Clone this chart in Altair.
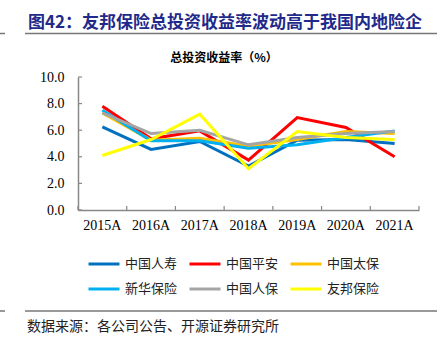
import altair as alt
import pandas as pd

years = ["2015A", "2016A", "2017A", "2018A", "2019A", "2020A", "2021A"]
companies = ["中国人寿", "中国平安", "中国太保", "新华保险", "中国人保", "友邦保险"]
colors = ["#0070C0", "#FF0000", "#FFC000", "#00B0F0", "#A5A5A5", "#FFFF00"]

s_gsrs = [6.25, 4.55, 5.15, 3.3, 5.25, 5.3, 5.0]
s_payh = [7.8, 5.35, 5.95, 3.75, 6.95, 6.2, 4.0]
s_zgtb = [7.3, 5.25, 5.4, 4.8, 5.3, 5.9, 5.75]
s_xhbx = [7.5, 5.2, 5.2, 4.65, 4.9, 5.45, 5.95]
s_zgrb = [7.3, 5.75, 6.0, 4.9, 5.45, 5.75, 5.9]
s_ybbx = [4.1, 5.3, 7.2, 3.1, 5.9, 5.45, 5.3]
series = [s_gsrs, s_payh, s_zgtb, s_xhbx, s_zgrb, s_ybbx]

y_ticks = [0, 2, 4, 6, 8, 10]

title_text = "图42：友邦保险总投资收益率波动高于我国内地险企"
subtitle_text = "总投资收益率（%）"
source_text = "数据来源：各公司公告、开源证券研究所"

rows = []
for c, vals in zip(companies, series):
    for i, (y, v) in enumerate(zip(years, vals)):
        rows.append({"year": y, "company": c, "value": v, "order": companies.index(c)})
df = pd.DataFrame(rows)

W, H = 341, 133
CJK = "Noto Sans CJK SC"
SERIF = "Liberation Serif"

xscale = alt.Scale(type="band", domain=years, paddingInner=0, paddingOuter=0)
yscale = alt.Scale(domain=[0, 10], nice=False)

x_axis = alt.Axis(title=None, ticks=False, labelFont=SERIF, labelFontSize=14,
                  labelColor="black", labelPadding=8, labelAngle=0, labelOverlap=False,
                  domainColor="#888888", domainWidth=1.5, grid=False)
y_axis = alt.Axis(title=None, values=y_ticks, format=".1f", ticks=False,
                  labelFont=SERIF, labelFontSize=14, labelColor="black",
                  labelPadding=14, labelOverlap=False, labelFlush=False,
                  domainColor="#888888", domainWidth=1.5, grid=False)

lines = alt.Chart(df).mark_line(strokeWidth=3).encode(
    x=alt.X("year:N", scale=xscale, bandPosition=0.5, sort=years, axis=x_axis),
    y=alt.Y("value:Q", scale=yscale, axis=y_axis),
    color=alt.Color("company:N", scale=alt.Scale(domain=companies, range=colors),
                    legend=alt.Legend(title=None, orient="none", legendX=9, legendY=170,
                                      direction="horizontal", columns=3,
                                      symbolType="stroke", symbolSize=961,
                                      symbolStrokeWidth=3, labelFont=CJK,
                                      labelFontSize=13, labelColor="#222222",
                                      labelOffset=4, columnPadding=5, rowPadding=1)),
    order=alt.Order("order:Q"),
)

ytick_df = pd.DataFrame({"value": y_ticks})
ytk = alt.Chart(ytick_df).mark_rule(color="#888888", strokeWidth=1.2).encode(
    y=alt.Y("value:Q", scale=yscale, axis=y_axis), x=alt.value(0), x2=alt.value(4))

xtick_df = pd.DataFrame({"year": years})
xtk = alt.Chart(xtick_df).mark_rule(color="#888888", strokeWidth=1.2).encode(
    x=alt.X("year:N", scale=xscale, bandPosition=0, sort=years, axis=x_axis),
    y=alt.value(H), y2=alt.value(H - 4))
xtk_end = alt.Chart(pd.DataFrame({"k": [0]})).mark_rule(color="#888888", strokeWidth=1.2).encode(
    x=alt.value(W), y=alt.value(H), y2=alt.value(H - 4))

def text_layer(txt, x, y, size, color, weight="normal", align="left"):
    return alt.Chart(pd.DataFrame({"t": [txt]})).mark_text(
        font=CJK, fontSize=size, color=color, fontWeight=weight, align=align,
        baseline="middle").encode(text="t:N", x=alt.value(x), y=alt.value(y))

title = text_layer(title_text, -50, -54, 17, "#1F2A8A", "bold")
subtitle = text_layer(subtitle_text, 146, -19, 12, "black", "bold", "center")
source = text_layer(source_text, -51, 250, 14, "#222222")

def hline(x1, x2, y):
    return alt.Chart(pd.DataFrame({"k": [0]})).mark_rule(color="#777777", strokeWidth=1.5).encode(
        x=alt.value(x1), x2=alt.value(x2), y=alt.value(y))

rules = [hline(-53, 359, -43.5), hline(-78, -73, -43.5), hline(-53, 359, 234), hline(-78, -73, 234)]

chart = alt.layer(lines, ytk, xtk, xtk_end, title, subtitle, source, *rules).properties(
    width=W, height=H, autosize=alt.AutoSizeParams(type="none"),
    padding={"left": 78, "top": 77, "right": 22, "bottom": 141},
    background="white",
).configure_view(stroke=None).configure_axis(labelOverlap=False)

chart.save("out.html", embed_options={"renderer": "svg", "actions": False})
